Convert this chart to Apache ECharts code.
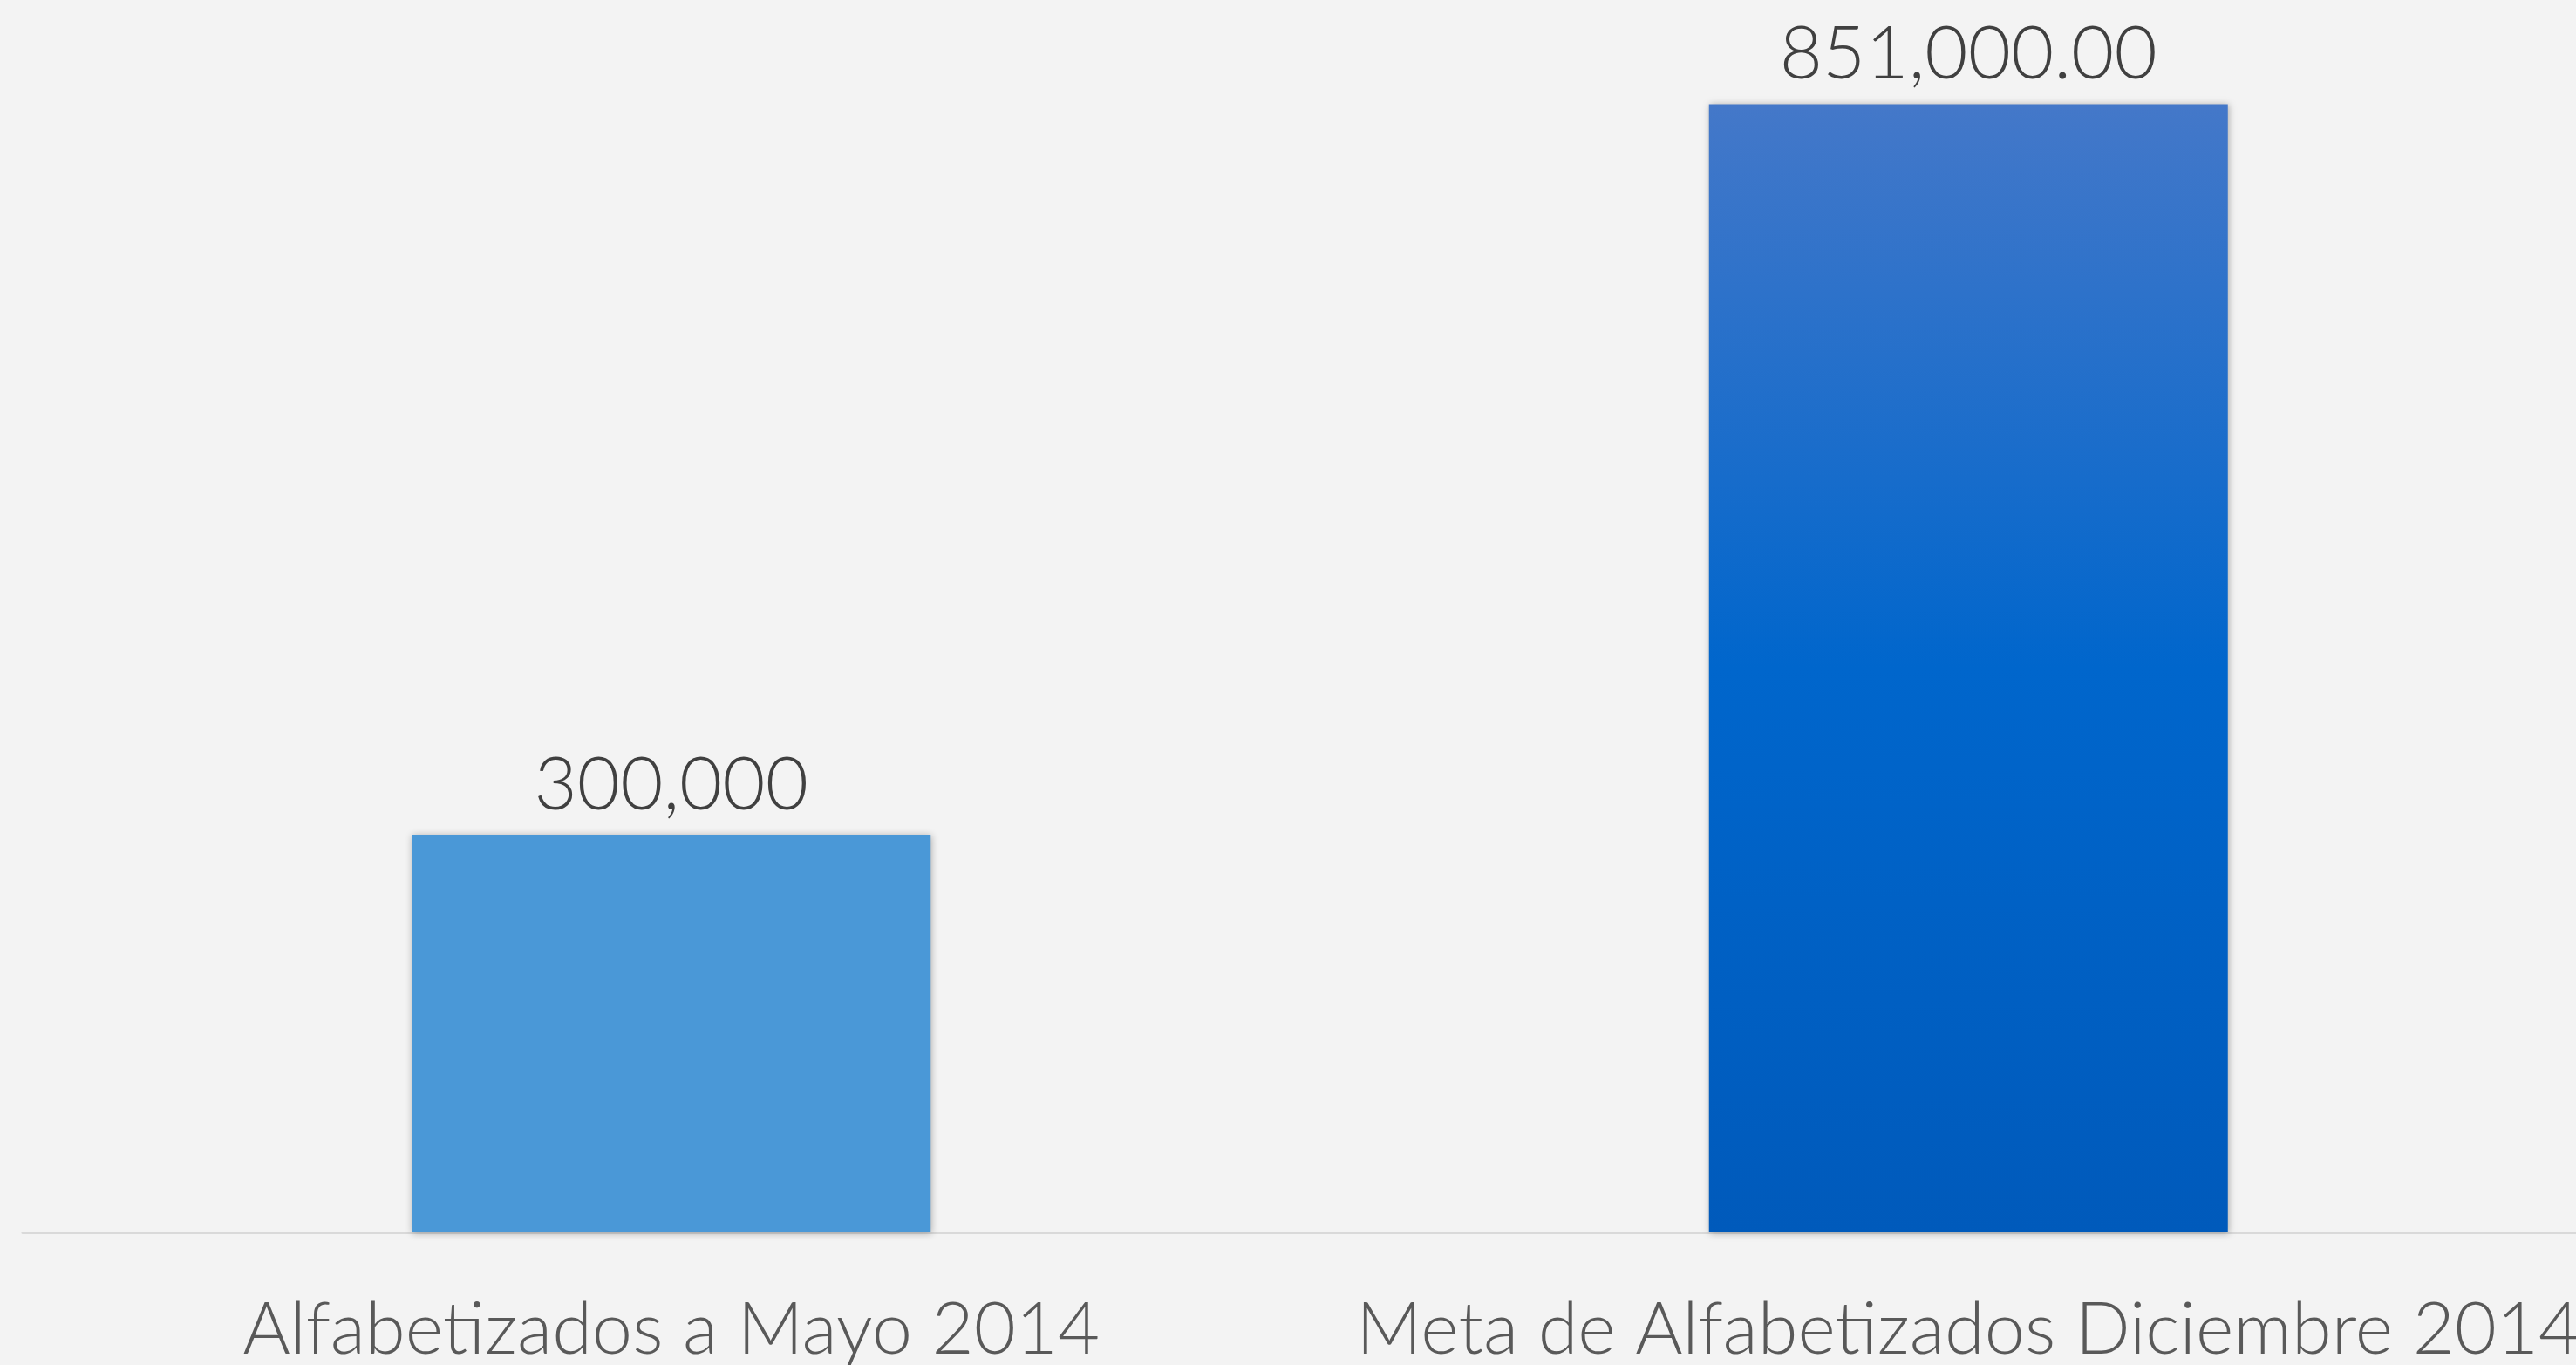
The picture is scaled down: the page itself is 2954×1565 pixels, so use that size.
<!DOCTYPE html>
<html>
<head>
<meta charset="utf-8">
<script src="https://cdn.jsdelivr.net/npm/echarts@6/dist/echarts.min.js"></script>
<style>
  html, body { margin: 0; padding: 0; background: #f3f3f3; }
  #chart { width: 2954px; height: 1565px; }
</style>
</head>
<body>
<div id="chart"></div>
<script>
const categories = ["Alfabetizados a Mayo 2014", "Meta de Alfabetizados Diciembre 2014"];
const values = [300000, 851000];
const valueLabels = ["300,000", "851,000.00"];

const chart = echarts.init(document.getElementById("chart"));

const barColors = [
  "#4a98d7",
  new echarts.graphic.LinearGradient(0, 0, 0, 1, [
    { offset: 0, color: "#4478c9" },
    { offset: 0.5, color: "#0066cc" },
    { offset: 1, color: "#005abb" },
  ]),
];

const option = {
  backgroundColor: "#f3f3f3",
  textStyle: { fontFamily: "Lato" },
  grid: {
    left: 26,
    right: -47,
    top: 45,
    bottom: 152,
    outerBoundsMode: "none",
  },
  xAxis: {
    type: "category",
    data: categories,
    axisLine: { lineStyle: { color: "#d9d9d9", width: 3 } },
    axisTick: { show: false },
    axisLabel: {
      interval: 0,
      margin: 71,
      fontSize: 83,
      fontWeight: 300,
      color: "#595959",
      fontFamily: "Lato",
    },
  },
  yAxis: {
    type: "value",
    min: 0,
    max: 900000,
    show: false,
    splitLine: { show: false },
  },
  series: [
    {
      type: "bar",
      barCategoryGap: "60%",
      data: values.map((v, i) => ({
        value: v,
        itemStyle: { color: barColors[i] },
      })),
      itemStyle: {
        shadowBlur: 8,
        shadowColor: "rgba(0, 0, 0, 0.3)",
        shadowOffsetX: 1,
        shadowOffsetY: 1,
      },
      label: {
        show: true,
        position: "top",
        distance: 14,
        fontSize: 85,
        fontWeight: 300,
        color: "#404040",
        fontFamily: "Lato",
        formatter: (p) => valueLabels[p.dataIndex],
      },
    },
  ],
};
chart.setOption(option);
</script>
</body>
</html>
